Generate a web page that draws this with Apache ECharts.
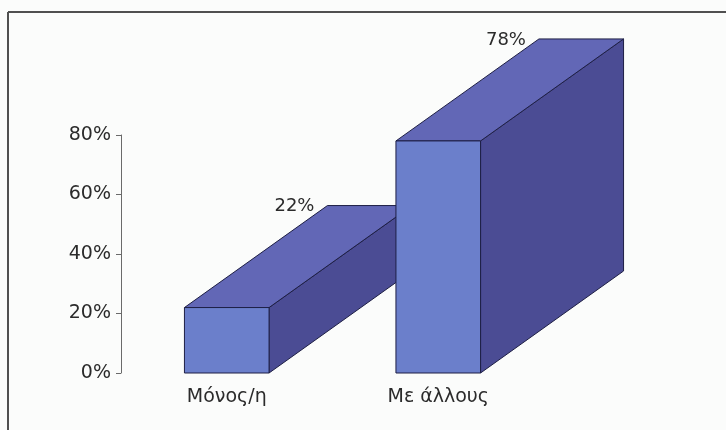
<!DOCTYPE html>
<html>
<head>
<meta charset="utf-8">
<script src="https://cdn.jsdelivr.net/npm/echarts@6/dist/echarts.min.js"></script>
<style>
  html, body { margin: 0; padding: 0; background: #fbfcfb; }
  #chart { width: 726px; height: 430px; }
</style>
</head>
<body>
<div id="chart"></div>
<script>
// Share of respondents by living arrangement
const categories = ['Μόνος/η', 'Με άλλους'];
const shares = [0.22, 0.78];
const yTicks = [0, 0.2, 0.4, 0.6, 0.8];

const pct = v => Math.round(v * 100) + '%';

// Perspective offset of the box depth (pixels)
const DEPTH_DX = 143;
const DEPTH_DY = -102;

const FRONT = '#6b7fcb';
const TOP = '#6267b6';
const SIDE = '#4b4c94';
const EDGE = '#1e1f45';
const TEXT = '#2b2b2b';

function renderBox(params, api) {
  const idx = api.value(0);
  const val = api.value(1);
  const topPt = api.coord([idx, val]);
  const basePt = api.coord([idx, 0]);
  const w = api.size([1, 0])[0] * 0.4;
  const x0 = topPt[0] - w / 2;
  const x1 = topPt[0] + w / 2;
  const yt = topPt[1];
  const yb = basePt[1];
  const edge = { stroke: EDGE, lineWidth: 1 };
  return {
    type: 'group',
    children: [
      {
        type: 'polygon',
        shape: { points: [[x1, yb], [x1 + DEPTH_DX, yb + DEPTH_DY], [x1 + DEPTH_DX, yt + DEPTH_DY], [x1, yt]] },
        style: Object.assign({ fill: SIDE }, edge)
      },
      {
        type: 'polygon',
        shape: { points: [[x0, yt], [x0 + DEPTH_DX, yt + DEPTH_DY], [x1 + DEPTH_DX, yt + DEPTH_DY], [x1, yt]] },
        style: Object.assign({ fill: TOP }, edge)
      },
      {
        type: 'rect',
        shape: { x: x0, y: yt, width: w, height: yb - yt },
        style: Object.assign({ fill: FRONT }, edge)
      },
      {
        type: 'text',
        x: x0 + DEPTH_DX - 13,
        y: yt + DEPTH_DY + 1,
        style: {
          text: pct(val),
          fontFamily: 'DejaVu Sans',
          fontSize: 18,
          fill: TEXT,
          align: 'right',
          verticalAlign: 'middle'
        }
      }
    ]
  };
}

const chart = echarts.init(document.getElementById('chart'), null, { renderer: 'canvas' });
chart.setOption({
  backgroundColor: '#fbfcfb',
  animation: false,
  grid: { left: 121, width: 423, top: 135, bottom: 57 },
  xAxis: {
    type: 'category',
    data: categories,
    axisLine: { show: false },
    axisTick: { show: false },
    axisLabel: {
      fontFamily: 'DejaVu Sans',
      fontSize: 19,
      color: TEXT,
      margin: 15
    }
  },
  yAxis: {
    type: 'value',
    min: yTicks[0],
    max: yTicks[yTicks.length - 1],
    interval: 0.2,
    splitLine: { show: false },
    axisLine: { show: true, lineStyle: { color: '#6a6a6a', width: 1 } },
    axisTick: { show: true, length: 5, lineStyle: { color: '#6a6a6a' } },
    axisLabel: {
      formatter: pct,
      fontFamily: 'DejaVu Sans',
      fontSize: 19,
      color: TEXT,
      margin: 10
    }
  },
  series: [{
    type: 'custom',
    renderItem: renderBox,
    encode: { x: 0, y: 1 },
    data: shares.map((v, i) => [i, v])
  }],
  graphic: [
    { type: 'line', shape: { x1: 8, y1: 12, x2: 8, y2: 430 }, style: { stroke: '#505050', lineWidth: 2 } },
    { type: 'line', shape: { x1: 8, y1: 12, x2: 726, y2: 12 }, style: { stroke: '#505050', lineWidth: 2 } }
  ]
});
</script>
</body>
</html>
